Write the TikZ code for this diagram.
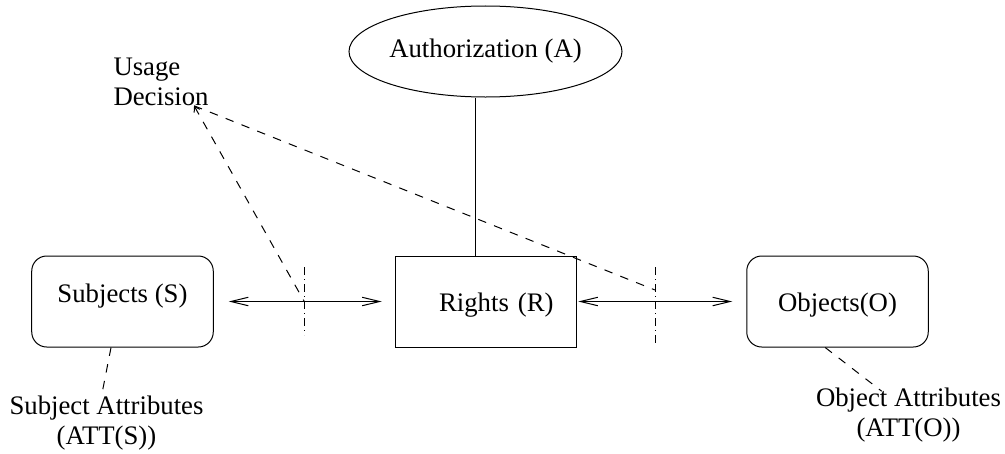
\documentclass[tikz,border=0pt]{standalone}
\usepackage{fontspec}
\setmainfont{Liberation Serif}
\usetikzlibrary{arrows.meta, shapes.geometric, calc}

\begin{document}
\begin{tikzpicture}
        [x=0.4pt, y=-0.4pt,
        font=\fontsize{10.7}{12}\selectfont,
        auth/.style={ellipse, draw=black, minimum width=109.2pt, minimum height=36.4pt, inner sep=0pt},
        sqbox/.style={rectangle, draw=black, minimum width=72.6pt, minimum height=36.4pt},
        rndbox/.style={sqbox, rounded corners=6pt},
        attr/.style={align=center, inner sep=0pt},
        arr/.style={{Straight Barb[length=7pt,width=3.4pt]}-{Straight Barb[length=7pt,width=3.4pt]}},
        dec/.style={dash pattern=on 3.4pt off 3.4pt},
        cut/.style={dash pattern=on 3.2pt off 1.6pt on 0.4pt off 1.6pt}]
        \useasboundingbox (0,0) rectangle (1005,453);
        \node (A) at (485.5,51.5) [auth] {Authorization (A)};
        \node (R) at (486,301.5) [sqbox, text width=54pt, align=right, text height=10.4pt] {Rights (R)};
        \node (S) at (122.5,301.5) [rndbox, text depth=6.4pt] {Subjects (S)}
           edge[arr, shorten <=6pt, shorten >=5.2pt] (R);
        \node (O) at (837.5,301.5) [rndbox, text height=10.4pt] {Objects(O)}
           edge[arr, shorten <=5.6pt, shorten >=0.4pt] (R);
        \draw ([xshift=-4.4pt]R.north) -- ([xshift=-4.4pt]R.north |- A.south);
        % cut marks on the two arrows
        \coordinate (cl) at ($(S.east)!0.5!(R.west)$);
        \coordinate (cr) at ($(R.east)!0.46!(O.west)$);
        \draw[cut] ([yshift=13.8pt]cl) -- ([yshift=-13.4pt]cl);
        \draw[cut] ([yshift=13.8pt]cr) -- ([yshift=-16.6pt]cr);
        \node (U) at (113,57) [anchor=north west, align=left, inner sep=0pt] {Usage\\Decision};
        \coordinate (ud) at ([xshift=-6pt]U.south east);
        \draw[dec, {Straight Barb[length=2pt,width=2.6pt]}-] (ud) -- (cl);
        \draw[dec] (ud) -- ([yshift=4.6pt]cr);
        % attributes
        \node (SA) at (106.5,423) [attr] {Subject Attributes\\(ATT(S))};
        \node (OA) at (908.5,415) [attr] {Object Attributes\\(ATT(O))};
        \draw[dec, shorten >=2.4pt] (S.256) -- (SA.100);
        \draw[dec, shorten >=-2.5pt] (O.255) -- (OA.139);
\end{tikzpicture}
\end{document}
